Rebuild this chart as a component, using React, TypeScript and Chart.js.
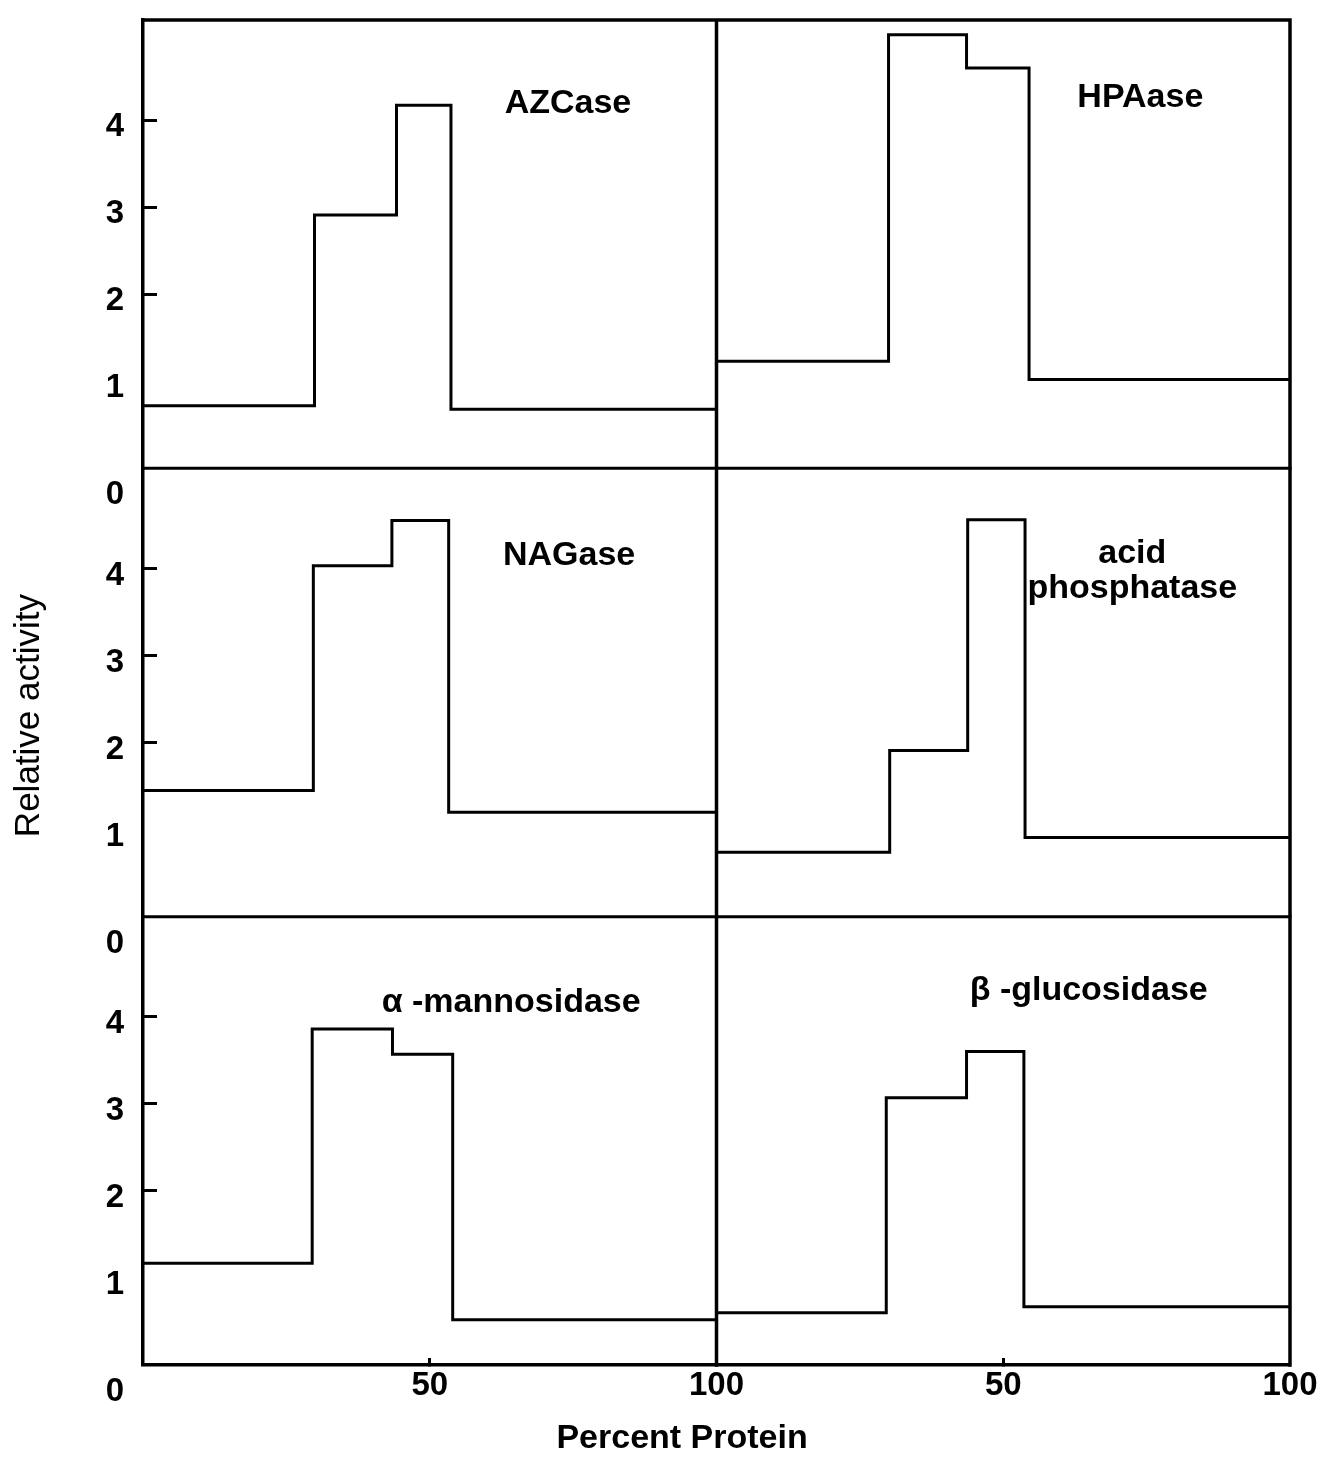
import { useEffect, useRef } from 'react';
import { Chart, registerables } from 'chart.js';

Chart.register(...registerables);

// ---- data ----
const panelNames: string[][] = [
  ['AZCase'],
  ['HPAase'],
  ['NAGase'],
  ['acid', 'phosphatase'],
  ['α -mannosidase'],
  ['β -glucosidase'],
];
const panelXAxis = ['xL', 'xR', 'xL', 'xR', 'xL', 'xR'];
const panelYAxis = ['yTop', 'yTop', 'yMid', 'yMid', 'yBot', 'yBot'];

// bin edges (percent protein) and step heights (relative activity)
const azcaseEdges = [0, 29.9, 44.2, 53.7, 100];
const azcaseLevels = [0.72, 2.91, 4.17, 0.68];
const hpaaseEdges = [0, 30.0, 43.6, 54.5, 100];
const hpaaseLevels = [1.23, 4.98, 4.6, 1.02];
const nagaseEdges = [0, 29.7, 43.4, 53.3, 100];
const nagaseLevels = [1.45, 4.03, 4.55, 1.2];
const acidPhosEdges = [0, 30.2, 43.8, 53.8, 100];
const acidPhosLevels = [0.74, 1.91, 4.56, 0.91];
const alphaManEdges = [0, 29.5, 43.5, 54.0, 100];
const alphaManLevels = [1.17, 3.86, 3.57, 0.52];
const betaGluEdges = [0, 29.6, 43.6, 53.6, 100];
const betaGluLevels = [0.6, 3.07, 3.6, 0.67];

const panelEdges = [azcaseEdges, hpaaseEdges, nagaseEdges, acidPhosEdges, alphaManEdges, betaGluEdges];
const panelLevels = [azcaseLevels, hpaaseLevels, nagaseLevels, acidPhosLevels, alphaManLevels, betaGluLevels];

// label anchor positions in data units
const labelX = [74.1, 73.9, 74.3, 72.5, 64.2, 64.9];
const labelY = [4.19, 4.26, 4.15, 3.97, 4.16, 4.3];

const xTickValues = [50, 100];
const yTickValues = [0, 1, 2, 3, 4];
const yMax = 5.15;
const xTitle = 'Percent Protein';
const xTitleAnchor = 94; // percent on left column axis where title is centred
const yTitle = 'Relative activity';
const yTitleAnchor = 2.31; // value on middle row axis where title is centred

const FONT = '"Liberation Sans", Arial, Helvetica, sans-serif';

function stepPoints(edges: number[], levels: number[]) {
  return edges.map((x, i) => ({ x, y: levels[Math.min(i, levels.length - 1)] }));
}

const framePlugin = {
  id: 'framePlugin',
  afterDatasetsDraw(chart: any) {
    const { ctx, chartArea } = chart;
    const s = chart.scales;
    ctx.save();
    ctx.strokeStyle = '#000';
    ctx.lineCap = 'square';
    ctx.lineWidth = 3.5;
    ctx.beginPath();
    ctx.moveTo(chartArea.left, chartArea.top);
    ctx.lineTo(chartArea.right, chartArea.top);
    ctx.moveTo(chartArea.right, chartArea.top);
    ctx.lineTo(chartArea.right, chartArea.bottom);
    ctx.moveTo(s.xR.left, chartArea.top);
    ctx.lineTo(s.xR.left, chartArea.bottom);
    ctx.stroke();
    ctx.lineWidth = 3;
    ctx.beginPath();
    [s.yTop.bottom, s.yMid.bottom].forEach((y: number) => {
      ctx.moveTo(chartArea.left, y);
      ctx.lineTo(chartArea.right, y);
    });
    ctx.stroke();

    ctx.font = `bold 34px ${FONT}`;
    ctx.fillStyle = '#000';
    ctx.textAlign = 'center';
    ctx.textBaseline = 'middle';
    panelNames.forEach((lines, i) => {
      const xs = s[panelXAxis[i]];
      const ys = s[panelYAxis[i]];
      const cx = xs.getPixelForValue(labelX[i]);
      const cy = ys.getPixelForValue(labelY[i]);
      const lh = 35;
      lines.forEach((t, j) => {
        ctx.fillText(t, cx, cy + (j - (lines.length - 1) / 2) * lh);
      });
    });

    // x axis title
    ctx.textBaseline = 'bottom';
    ctx.fillText(xTitle, s.xL.getPixelForValue(xTitleAnchor), s.xL.bottom - 2);

    // y axis title
    ctx.font = `35px ${FONT}`;
    ctx.textBaseline = 'middle';
    ctx.translate(s.yMid.left + 29, s.yMid.getPixelForValue(yTitleAnchor));
    ctx.rotate(-Math.PI / 2);
    ctx.fillText(yTitle, 0, 0);
    ctx.restore();
  },
};

function yAxis(weight: number) {
  return {
    type: 'linear',
    position: 'left',
    stack: 'rows',
    stackWeight: 1,
    weight,
    min: 0,
    max: yMax,
    afterBuildTicks: (sc: any) => {
      sc.ticks = yTickValues.map((v) => ({ value: v }));
    },
    afterFit: (sc: any) => {
      sc.width = 143;
      sc.paddingTop = 0;
      sc.paddingBottom = 0;
    },
    grid: {
      drawOnChartArea: false,
      drawTicks: true,
      tickLength: -14,
      tickWidth: 3,
      tickColor: (c: any) => (c.tick && c.tick.value >= 2 ? '#000' : 'rgba(0,0,0,0)'),
    },
    border: { display: true, color: '#000', width: 3.5 },
    ticks: {
      padding: 33,
      labelOffset: 7,
      color: '#000',
      font: { family: FONT, size: 33, weight: 'bold' },
      autoSkip: false,
      callback: (v: number) => (v === 0 ? ['', '0'] : String(v)),
    },
  };
}

function xAxis(weight: number) {
  return {
    type: 'linear',
    position: 'bottom',
    stack: 'cols',
    stackWeight: 1,
    weight,
    min: 0,
    max: 100,
    afterBuildTicks: (sc: any) => {
      sc.ticks = xTickValues.map((v) => ({ value: v }));
    },
    afterFit: (sc: any) => {
      sc.height = 93;
      sc.paddingLeft = 0;
      sc.paddingRight = 0;
    },
    grid: {
      drawOnChartArea: false,
      drawTicks: true,
      tickLength: -7,
      tickWidth: 3,
      tickColor: (c: any) => (c.tick && c.tick.value === 50 ? '#000' : 'rgba(0,0,0,0)'),
    },
    border: { display: true, color: '#000', width: 3.5 },
    ticks: {
      padding: 8,
      color: '#000',
      maxRotation: 0,
      autoSkip: false,
      font: { family: FONT, size: 33, weight: 'bold' },
    },
  };
}

export default function App() {
  const ref = useRef<HTMLCanvasElement | null>(null);
  useEffect(() => {
    if (!ref.current) return;
    const datasets = panelNames.map((n, i) => ({
      label: n.join(' '),
      data: stepPoints(panelEdges[i], panelLevels[i]),
      xAxisID: panelXAxis[i],
      yAxisID: panelYAxis[i],
      stepped: 'before',
      borderColor: '#000',
      borderWidth: 3,
      pointRadius: 0,
      fill: false,
    }));
    const chart = new Chart(ref.current, {
      type: 'line',
      data: { datasets } as any,
      options: {
        responsive: false,
        animation: false,
        devicePixelRatio: 1,
        layout: { padding: { left: 0, top: 20, right: 35, bottom: 0 } },
        plugins: {
          legend: { display: false },
          tooltip: { enabled: false },
          title: { display: false },
        },
        scales: {
          yTop: yAxis(3),
          yMid: yAxis(2),
          yBot: yAxis(1),
          xL: xAxis(0),
          xR: xAxis(1),
        } as any,
      },
      plugins: [framePlugin],
    } as any);
    return () => chart.destroy();
  }, []);
  return (
    <div style={{ position: 'absolute', left: 0, top: 0, width: 1325, height: 1458, background: '#fff' }}>
      <canvas ref={ref} width={1325} height={1458} style={{ display: 'block' }} />
    </div>
  );
}
